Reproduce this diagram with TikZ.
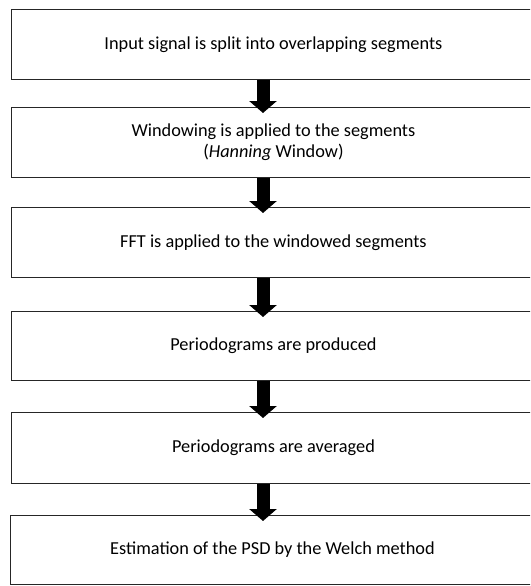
\documentclass[tikz,border=0pt]{standalone}
\usepackage{fontspec}
\setmainfont{Carlito}
\usetikzlibrary{arrows.meta}
\begin{document}
\begin{tikzpicture}[x=1pt,y=-1pt,
  stage/.style={draw=black!85, line width=0.9pt, anchor=north west,
    minimum width=524pt, inner sep=0pt, align=center,
    font=\fontsize{18.3}{21}\selectfont, text=black},
  flow/.style={line width=13pt, -{Triangle[width=27pt,length=12pt]}, black}]
\useasboundingbox (0,0) rectangle (530,586);
\clip (0,0) rectangle (530,586);
% process stages
\node[stage, minimum height=70pt] (s1) at (11,9)   {Input signal is split into overlapping segments};
\node[stage, minimum height=70pt] (s2) at (11,107) {Windowing is applied to the segments\\(\textit{Hanning} Window)};
\node[stage, minimum height=70pt] (s3) at (11,207) {FFT is applied to the windowed segments};
\node[stage, minimum height=69pt] (s4) at (11,311) {Periodograms are produced};
\node[stage, minimum height=71pt] (s5) at (11,412) {Periodograms are averaged};
\node[stage, minimum height=69pt] (s6) at (10,515) {Estimation of the PSD by the Welch method};
% block arrows between stages
\coordinate (ax) at (263,0);
\draw[flow] (s1.south -| ax) -- ([yshift=-6pt]s2.north -| ax);
\draw[flow] (s2.south -| ax) -- ([yshift=-6pt]s3.north -| ax);
\draw[flow] (s3.south -| ax) -- ([yshift=-6pt]s4.north -| ax);
\draw[flow] (s4.south -| ax) -- ([yshift=-6pt]s5.north -| ax);
\draw[flow] (s5.south -| ax) -- ([yshift=-6pt]s6.north -| ax);
\end{tikzpicture}
\end{document}
